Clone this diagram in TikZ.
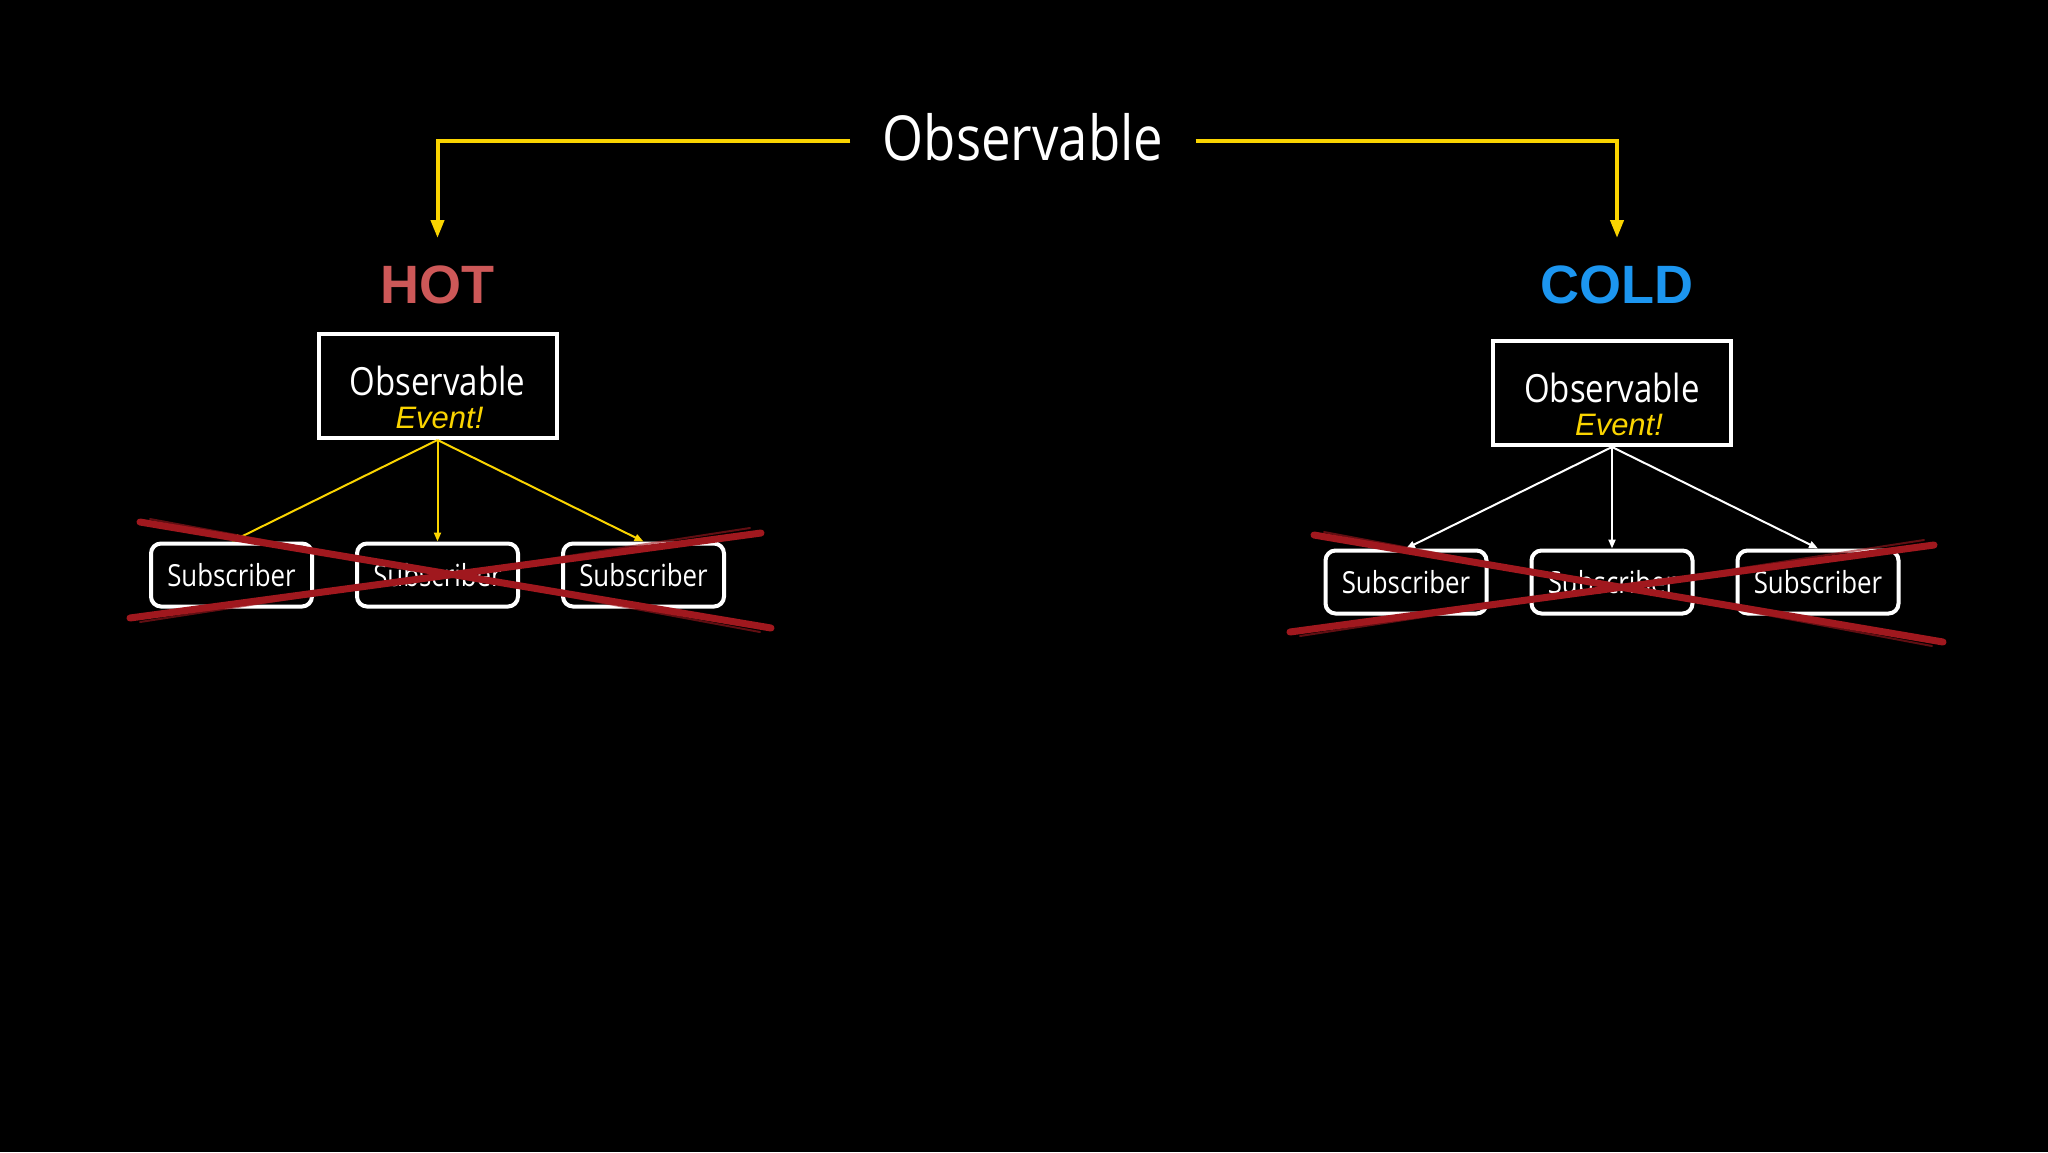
\documentclass[tikz,border=0pt]{standalone}
\usepackage{fontspec}
\setmainfont{Liberation Sans}
\newfontfamily\slidefont[FakeStretch=0.85]{Open Sans}
\usetikzlibrary{positioning, arrows.meta}
\definecolor{obsyellow}{RGB}{250,212,0}
\definecolor{hotred}{RGB}{205,88,88}
\definecolor{coldblue}{RGB}{28,150,240}
\definecolor{strikered}{RGB}{160,24,30}
\tikzset{
	obsbox/.style={
		rectangle,
		draw=white,
		line width=2pt,
		fill=black,
		text=white,
		align=center,
		inner sep=0pt,
		minimum width=119pt,
		minimum height=52pt,
		font=\slidefont\fontsize{19.4}{20}\selectfont,
	},
	subbox/.style={
		rectangle,
		draw=white,
		line width=2pt,
		rounded corners=5pt,
		fill=black,
		text=white,
		inner sep=0pt,
		minimum width=80.5pt,
		minimum height=31.5pt,
		font=\slidefont\fontsize{15.2}{18}\selectfont,
	},
	kind/.style={
		font=\bfseries\fontsize{27}{30}\selectfont,
	},
	branch/.style={
		draw=obsyellow,
		line width=2pt,
		-{Triangle[length=9pt,width=6.5pt]},
	},
	feed/.style={
		line width=1pt,
		-{Triangle[length=4.5pt,width=3.5pt]},
	},
	strike/.style={
		draw=strikered,
		line width=3.5pt,
		line cap=round,
	},
}
% two lines of the observable boxes
\newcommand{\obstext}[1]{\rule{0pt}{26pt}Observable\\[-3.5pt]\hspace*{#1}{\color{obsyellow}\rmfamily\fontsize{15.5}{18}\selectfont\itshape Event!}}

\begin{document}
\begin{tikzpicture}[x=0.5pt, y=-0.5pt, node distance=103pt]
		\fill[black] (0,0) rectangle (2048,1152);
		% Place nodes
		\node[text=white, inner xsep=16pt, font=\slidefont\fontsize{31}{36}\selectfont] (title) at (1023,137) {Observable};
		\node[kind, text=hotred] (hot) at (437.5,285) {HOT};
		\node[kind, text=coldblue] (cold) at (1617,285) {COLD};
		\coordinate (hotin) at (437.5,238);
		\coordinate (coldin) at (1617,238);
		
		\draw[branch] ([yshift=-2pt]title.west) -| (hotin);
		\draw[branch] ([yshift=-2pt]title.east) -| (coldin);
		
		\node[obsbox, below of=hot, node distance=50.5pt] (hotobs) {\obstext{2pt}};
		\node[subbox, below of=hotobs, node distance=94.5pt] (hs2) {Subscriber};
		\node[subbox, left of=hs2] (hs1) {Subscriber};
		\node[subbox, right of=hs2] (hs3) {Subscriber};
		
		\node[obsbox, below of=cold, node distance=54pt, xshift=-2.5pt] (coldobs) {\obstext{7pt}};
		\node[subbox, below of=coldobs, node distance=94.5pt] (cs2) {Subscriber};
		\node[subbox, left of=cs2] (cs1) {Subscriber};
		\node[subbox, right of=cs2] (cs3) {Subscriber};
		
		\foreach \s in {hs1,hs2,hs3}
			\draw[feed, draw=obsyellow] (hotobs.south) -- (\s.north);
		\foreach \s in {cs1,cs2,cs3}
			\draw[feed, draw=white] (coldobs.south) -- (\s.north);
		
		% crossed out
		\draw[strike] (140,522) -- (771,628);
		\draw[strike] (130,618) -- (761,533);
		\draw[strike] (1314,535) -- (1943,642);
		\draw[strike] (1290,632) -- (1934,545);
		\draw[strike, line width=1pt, opacity=.6] (150,519) -- (760,632);
		\draw[strike, line width=1pt, opacity=.6] (140,622) -- (750,528);
		\draw[strike, line width=1pt, opacity=.6] (1324,532) -- (1932,646);
		\draw[strike, line width=1pt, opacity=.6] (1300,636) -- (1924,540);

	\end{tikzpicture}
\end{document}
